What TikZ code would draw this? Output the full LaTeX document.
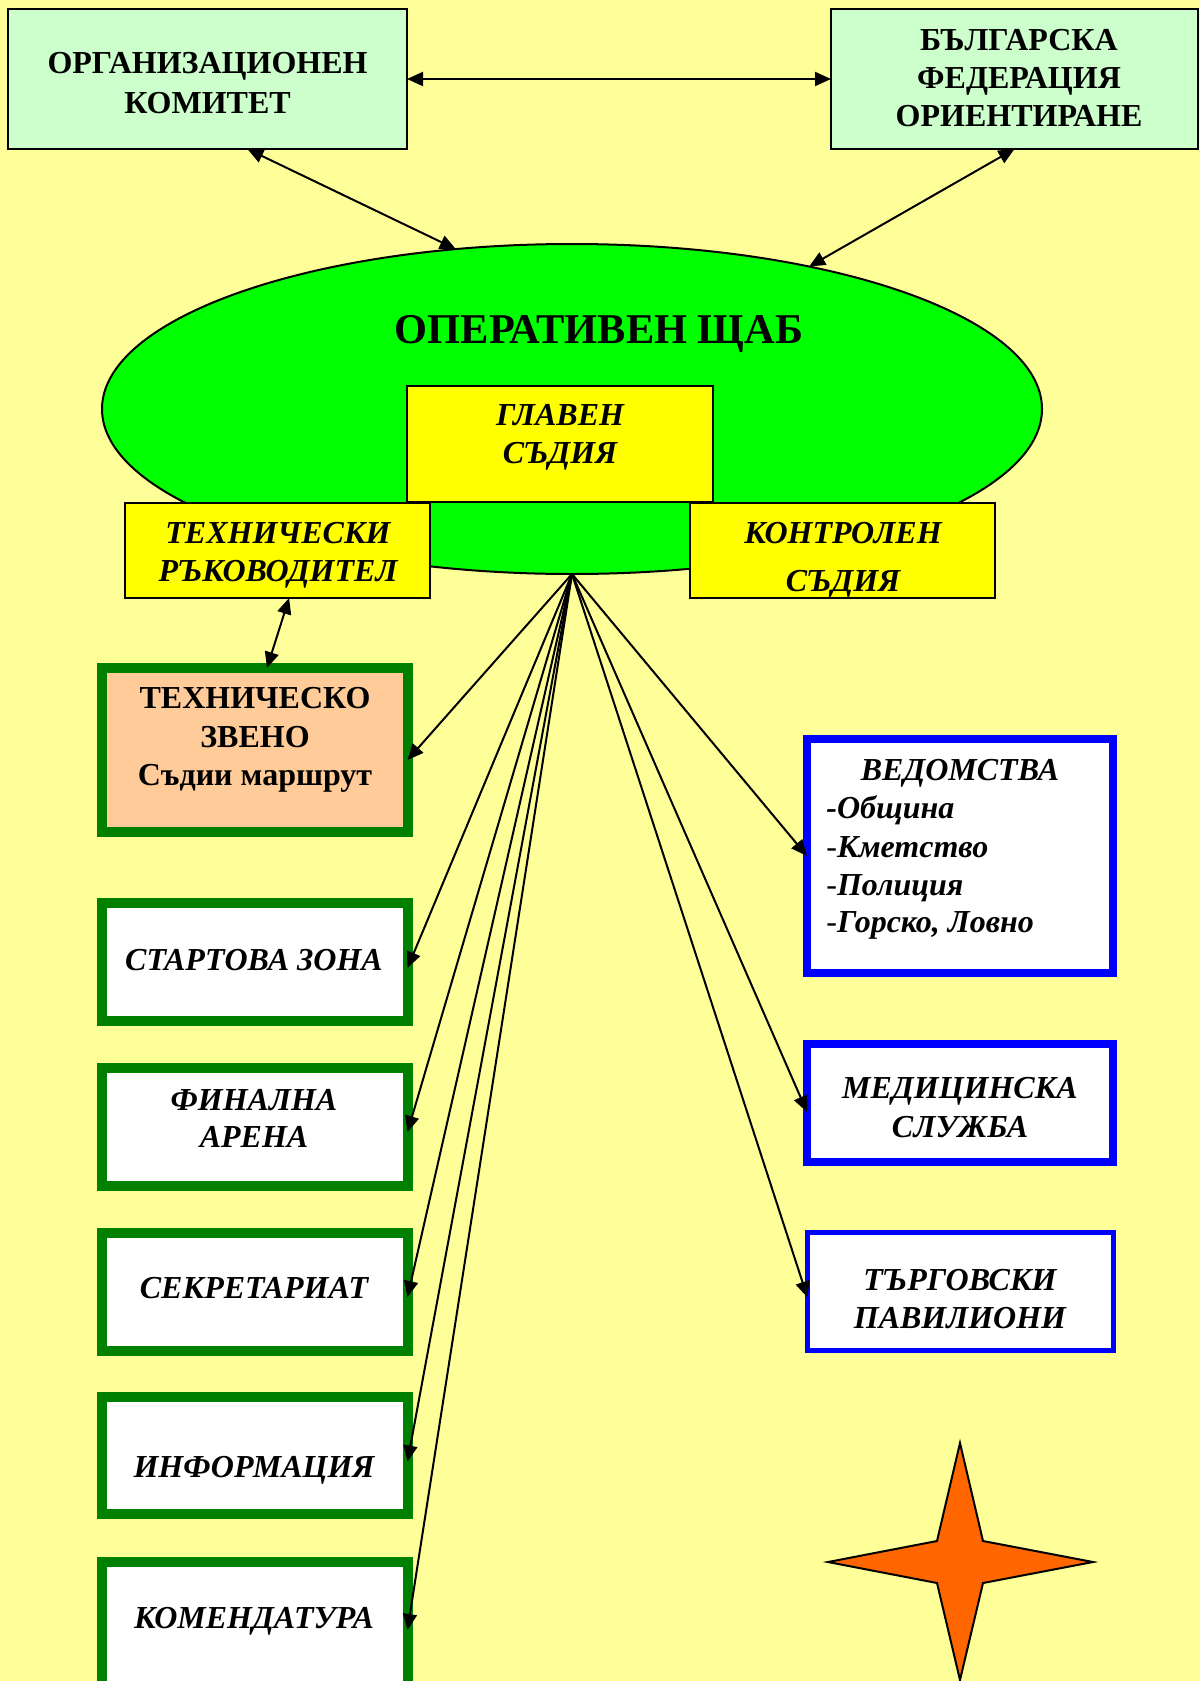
\documentclass[tikz,border=0pt]{standalone}
\usepackage{fontspec}
\setmainfont{Liberation Serif}
\usetikzlibrary{arrows.meta,shapes.geometric,fit,calc}
\definecolor{bgc}{HTML}{FFFF99}
\definecolor{mint}{HTML}{CCFFCC}
\definecolor{lime}{HTML}{00FF00}
\definecolor{yel}{HTML}{FFFF00}
\definecolor{peach}{HTML}{FFCC99}
\definecolor{dgreen}{HTML}{008000}
\definecolor{blu}{HTML}{0000FF}
\definecolor{orng}{HTML}{FF6600}
\tikzset{
  thinbox/.style={draw=black, line width=1pt, inner sep=0pt, outer sep=0pt},
  gbox/.style={draw=dgreen, line width=5pt, fill=white, inner sep=0pt, outer sep=0pt},
  bbox/.style={draw=blu, line width=4pt, fill=white, inner sep=0pt, outer sep=0pt},
  tb/.style={font=\fontsize{16}{19}\selectfont\bfseries, anchor=base, inner sep=0pt},
  tbig/.style={font=\fontsize{21.2}{25}\selectfont\bfseries, anchor=base, inner sep=0pt},
  ti/.style={font=\fontsize{16}{19}\selectfont\bfseries\itshape, anchor=base, inner sep=0pt},
  tu/.style={font=\fontsize{16}{19}\selectfont\bfseries, anchor=base, inner sep=0pt},
  conn/.style={line width=1pt, -{Triangle[length=8pt,width=7pt]}},
  dconn/.style={line width=1pt, {Triangle[length=8pt,width=7pt]}-{Triangle[length=8pt,width=7pt]}}
}
\begin{document}
\begin{tikzpicture}[x=0.5pt,y=-0.5pt]
\fill[bgc] (0,0) rectangle (1200,1681);
\useasboundingbox (0,0) rectangle (1200,1681);
\clip (0,0) rectangle (1200,1681);

% top boxes
\node[thinbox, fill=mint, fit={(8,9) (407,149)}] (ok) {};
\node[thinbox, fill=mint, fit={(831,9) (1198,149)}] (bf) {};

% ellipse
\node[ellipse, draw=black, line width=1pt, fill=lime, minimum width=470pt, minimum height=165pt, inner sep=0pt, outer sep=0pt] (op) at (572,409) {};

% yellow boxes
\node[thinbox, fill=yel, fit={(407,386) (713,502)}] (gs) {};
\node[thinbox, fill=yel, fit={(125,503) (430,598)}] (tr) {};
\node[thinbox, fill=yel, fit={(690,503) (995,598)}] (ks) {};

% left green boxes
\node[gbox, fill=peach, fit={(102,668) (407.5,832)}] (tz) {};
\node[gbox, fit={(102,903) (407.5,1021)}] (stz) {};
\node[gbox, fit={(102,1068) (407.5,1186)}] (fa) {};
\node[gbox, fit={(102,1233) (407.5,1351)}] (sek) {};
\node[gbox, fit={(102,1397) (407.5,1514)}] (inf) {};
\node[gbox, fit={(102,1562) (407.5,1720)}] (kom) {};

% right blue boxes
\node[bbox, fit={(807,739) (1113,973)}] (ved) {};
\node[bbox, fit={(807,1044) (1113,1162)}] (med) {};
\node[bbox, line width=2.5pt, fit={(807.5,1232.5) (1113.5,1350.5)}] (tg) {};

% texts
\node[tb] (okt1) at (207.5,73.5) {ОРГАНИЗАЦИОНЕН};
\node[tb] (okt2) at (207.5,113.5) {КОМИТЕТ};
\node[tb] (bft1) at (1019,50.5) {БЪЛГАРСКА};
\node[tb] (bft2) at (1019,88.5) {ФЕДЕРАЦИЯ};
\node[tb] (bft3) at (1019,126) {ОРИЕНТИРАНЕ};
\node[tbig] (opt) at (599,343) {ОПЕРАТИВЕН ЩАБ};
\node[ti] (gs1) at (560,425) {ГЛАВЕН};
\node[ti] (gs2) at (560,463) {СЪДИЯ};
\node[ti] (tr1) at (278,543) {ТЕХНИЧЕСКИ};
\node[ti] (tr2) at (278,581) {РЪКОВОДИТЕЛ};
\node[ti] (ks1) at (843,543) {КОНТРОЛЕН};
\node[ti] (ks2) at (843,591) {СЪДИЯ};
\node[tu] (tz1) at (255,708) {ТЕХНИЧЕСКО};
\node[tu] (tz2) at (255,747) {ЗВЕНО};
\node[tu] (tz3) at (255,785) {Съдии маршрут};
\node[ti] (stzt) at (254,970) {СТАРТОВА ЗОНА};
\node[ti] (fa1) at (254,1110) {ФИНАЛНА};
\node[ti] (fa2) at (254,1147) {АРЕНА};
\node[ti] (sekt) at (254,1298) {СЕКРЕТАРИАТ};
\node[ti] (inft) at (254,1477) {ИНФОРМАЦИЯ};
\node[ti] (komt) at (254,1628) {КОМЕНДАТУРА};
\node[ti] (ved1) at (960,780) {ВЕДОМСТВА};
\node[ti, anchor=base west] (ved2) at (826,818) {-Община};
\node[ti, anchor=base west] (ved3) at (826,857) {{\mdseries\upshape -}Кметство};
\node[ti, anchor=base west] (ved4) at (826,895) {{\mdseries\upshape -}Полиция};
\node[ti, anchor=base west] (ved5) at (826,932) {{\mdseries\upshape -}Горско, Ловно};
\node[ti] (med1) at (960,1098) {МЕДИЦИНСКА};
\node[ti] (med2) at (960,1137) {СЛУЖБА};
\node[ti] (tg1) at (960,1290) {ТЪРГОВСКИ};
\node[ti] (tg2) at (960,1328) {ПАВИЛИОНИ};

% connectors
\draw[dconn] (ok.east) -- (bf.west);
\draw[dconn] ($(ok.south west)!0.6!(ok.south east)$) -- (op.126);
\draw[dconn] (bf.south) -- (op.31);
\draw[dconn] ($(tr.south west)!0.538!(tr.south east)$) -- ($(tz.north west)!0.54!(tz.north east)$);

\draw[conn] (op.south) -- ($(tz.east)+(0,10)$);
\draw[conn] (op.south) -- ($(stz.east)+(0,6)$);
\draw[conn] (op.south) -- ($(fa.east)+(0,5)$);
\draw[conn] (op.south) -- ($(sek.east)+(0,5)$);
\draw[conn] (op.south) -- ($(inf.east)+(0,6)$);
\draw[conn] (op.south) -- ($(kom.north east)+(0,68)$);
\draw[conn] (op.south) -- (ved.west);
\draw[conn] (op.south) -- ($(med.west)+(0,9)$);
\draw[conn] (op.south) -- ($(tg.west)+(0,6)$);

% star
\draw[fill=orng, line width=1pt, line join=miter]
  (960,1443) -- (983,1541) -- (1093,1562) -- (983,1583) -- (960,1680)
  -- (937,1583) -- (828,1562) -- (937,1541) -- cycle;
\end{tikzpicture}
\end{document}
